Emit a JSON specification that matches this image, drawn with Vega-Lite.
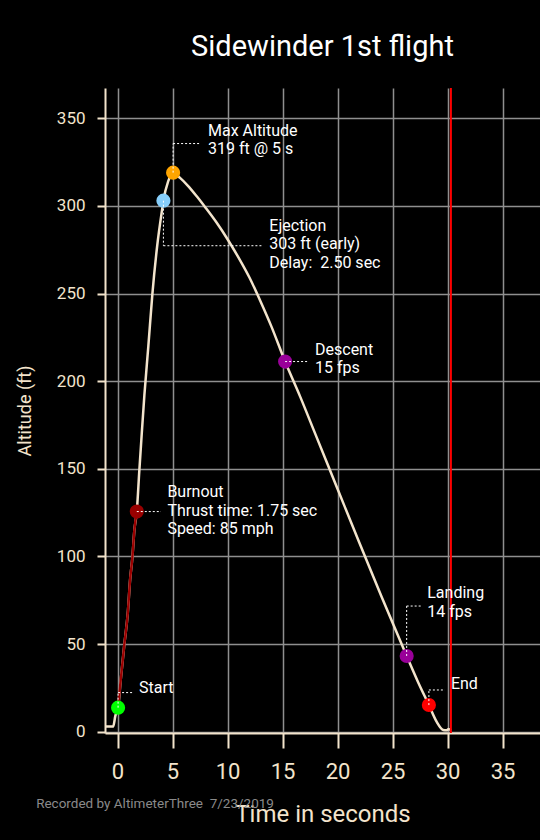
{
  "$schema": "https://vega.github.io/schema/vega-lite/v6.json",
  "width": 435,
  "height": 645,
  "autosize": {"type": "none"},
  "padding": {"left": 105, "top": 88, "right": 0, "bottom": 107},
  "background": "black",
  "title": {"text": "Sidewinder 1st flight", "color": "white", "fontSize": 29, "font": "Roboto", "fontWeight": "normal", "anchor": "middle", "baseline": "alphabetic", "offset": 2},
  "config": {
    "view": {"stroke": null},
    "axis": {
      "labelFont": "Roboto", "titleFont": "Roboto", "titleFontWeight": "normal",
      "labelColor": "#f3e4cc", "titleColor": "#f3e4cc",
      "domainColor": "#f3e4cc", "domainWidth": 2,
      "tickColor": "#f3e4cc", "tickWidth": 2,
      "gridColor": "#8f8f8f", "gridWidth": 1.5
    }
  },
  "datasets": {
    "flight": [
      {"t": -1.14, "alt": 2.9}, {"t": -0.4, "alt": 2.9}, {"t": -0.2, "alt": 9.0}, {"t": 0.05, "alt": 13.7},
      {"t": 0.29, "alt": 29.5}, {"t": 0.62, "alt": 49.9}, {"t": 0.93, "alt": 67.6}, {"t": 1.14, "alt": 86.6},
      {"t": 1.35, "alt": 99.5}, {"t": 1.53, "alt": 115}, {"t": 1.75, "alt": 125.6}, {"t": 1.98, "alt": 149},
      {"t": 2.2, "alt": 170}, {"t": 2.44, "alt": 192}, {"t": 2.8, "alt": 220}, {"t": 3.17, "alt": 250},
      {"t": 3.6, "alt": 277}, {"t": 4.1, "alt": 300}, {"t": 4.17, "alt": 303}, {"t": 4.6, "alt": 314},
      {"t": 5.05, "alt": 319}, {"t": 5.68, "alt": 316}, {"t": 6.4, "alt": 311.5}, {"t": 7.2, "alt": 305.5},
      {"t": 8.0, "alt": 299}, {"t": 9.0, "alt": 290.5}, {"t": 10.0, "alt": 281}, {"t": 11.0, "alt": 270.5},
      {"t": 12.0, "alt": 259}, {"t": 13.0, "alt": 245.5}, {"t": 14.0, "alt": 231}, {"t": 15.23, "alt": 211.2},
      {"t": 16.6, "alt": 191.2}, {"t": 18.0, "alt": 169.5}, {"t": 20.0, "alt": 138.5}, {"t": 22.0, "alt": 107.5},
      {"t": 24.0, "alt": 77}, {"t": 26.28, "alt": 43.2}, {"t": 27.3, "alt": 28.5},
      {"t": 28.3, "alt": 15.2}, {"t": 29.0, "alt": 5.7}, {"t": 29.6, "alt": 1.0}, {"t": 29.9, "alt": 0.8},
      {"t": 30.1, "alt": 1.5}, {"t": 30.3, "alt": 0.8}
    ],
    "events": [
      {"event": "Start", "t": 0.05, "alt": 13.7},
      {"event": "Burnout", "t": 1.75, "alt": 125.6},
      {"event": "Ejection", "t": 4.17, "alt": 303},
      {"event": "Max Altitude", "t": 5.05, "alt": 319},
      {"event": "Descent", "t": 15.23, "alt": 211.2},
      {"event": "Landing", "t": 26.28, "alt": 43.2},
      {"event": "End", "t": 28.3, "alt": 15.2}
    ],
    "leaders": [
      {"t1": 5.05, "a1": 319, "t2": 5.05, "a2": 335.6}, {"t1": 5.05, "a1": 335.6, "t2": 7.5, "a2": 335.6},
      {"t1": 4.17, "a1": 303, "t2": 4.17, "a2": 277.3}, {"t1": 4.17, "a1": 277.3, "t2": 13.25, "a2": 277.3},
      {"t1": 15.23, "a1": 211.2, "t2": 17.34, "a2": 211.2},
      {"t1": 1.75, "a1": 125.6, "t2": 3.95, "a2": 125.6},
      {"t1": 0.05, "a1": 13.7, "t2": 0.05, "a2": 22.3}, {"t1": 0.05, "a1": 22.3, "t2": 1.44, "a2": 22.3},
      {"t1": 26.28, "a1": 43.2, "t2": 26.28, "a2": 71.7}, {"t1": 26.28, "a1": 71.7, "t2": 27.64, "a2": 71.7},
      {"t1": 28.3, "a1": 15.2, "t2": 28.3, "a2": 23.8}, {"t1": 28.3, "a1": 23.8, "t2": 29.76, "a2": 23.8}
    ],
    "labels": [
      {"t": 8.22, "alt": 340, "label": "Max Altitude\n319 ft @ 5 s"},
      {"t": 13.8, "alt": 285.9, "label": "Ejection\n303 ft (early)\nDelay:\u00a0 2.50 sec"},
      {"t": 17.95, "alt": 215.2, "label": "Descent\n15 fps"},
      {"t": 4.53, "alt": 133.8, "label": "Burnout\nThrust time: 1.75 sec\nSpeed: 85 mph"},
      {"t": 1.95, "alt": 21.9, "label": "Start"},
      {"t": 28.15, "alt": 76.1, "label": "Landing\n14 fps"},
      {"t": 30.3, "alt": 24.2, "label": "End"}
    ],
    "endline": [{"t": 30.3}],
    "footer": [{"t": -7.4, "alt": -41.5, "label": "Recorded by AltimeterThree\u00a0 7/23/2019"}]
  },
  "layer": [
    {
      "data": {"name": "flight"},
      "mark": {"type": "line", "color": "#f3e4cc", "strokeWidth": 2.5, "clip": true, "interpolate": "monotone"},
      "encoding": {
        "x": {"field": "t", "type": "quantitative", "scale": {"domain": [-1.14, 38.4], "nice": false, "zero": false},
              "axis": {"title": "Time in seconds", "titleFontSize": 24, "labelFontSize": 22, "tickSize": 15, "labelPadding": 13, "titlePadding": 20,
                       "values": [0, 5, 10, 15, 20, 25, 30, 35]}},
        "y": {"field": "alt", "type": "quantitative", "scale": {"domain": [-0.75, 367.3], "nice": false, "zero": false},
              "axis": {"title": "Altitude (ft)", "titleFontSize": 18, "labelFontSize": 17, "tickSize": 8, "labelPadding": 12, "titlePadding": 22,
                       "values": [0, 50, 100, 150, 200, 250, 300, 350]}}
      }
    },
    {
      "data": {"name": "endline"},
      "mark": {"type": "rule", "color": "#ff0000", "strokeWidth": 2},
      "encoding": {"x": {"field": "t", "type": "quantitative"}}
    },
    {
      "data": {"name": "flight"},
      "transform": [{"filter": "datum.t >= 0 && datum.t <= 1.75"}],
      "mark": {"type": "line", "color": "#9a0000", "strokeWidth": 2.5, "interpolate": "monotone"},
      "encoding": {
        "x": {"field": "t", "type": "quantitative"},
        "y": {"field": "alt", "type": "quantitative"}
      }
    },
    {
      "data": {"name": "events"},
      "mark": {"type": "point", "filled": true, "size": 200, "opacity": 1},
      "encoding": {
        "x": {"field": "t", "type": "quantitative"},
        "y": {"field": "alt", "type": "quantitative"},
        "color": {"field": "event", "type": "nominal", "legend": null,
                  "scale": {"domain": ["Start", "Burnout", "Ejection", "Max Altitude", "Descent", "Landing", "End"],
                            "range": ["#00ff00", "#990000", "#87cefa", "#ffa500", "#990099", "#990099", "#ff0000"]}}
      }
    },
    {
      "data": {"name": "leaders"},
      "mark": {"type": "rule", "color": "white", "strokeWidth": 1, "strokeDash": [2, 2]},
      "encoding": {
        "x": {"field": "t1", "type": "quantitative"},
        "y": {"field": "a1", "type": "quantitative"},
        "x2": {"field": "t2"},
        "y2": {"field": "a2"}
      }
    },
    {
      "data": {"name": "labels"},
      "mark": {"type": "text", "color": "white", "font": "Roboto", "fontSize": 16, "align": "left", "baseline": "alphabetic", "lineBreak": "\n", "lineHeight": 18.5},
      "encoding": {
        "x": {"field": "t", "type": "quantitative"},
        "y": {"field": "alt", "type": "quantitative"},
        "text": {"field": "label"}
      }
    },
    {
      "data": {"name": "footer"},
      "mark": {"type": "text", "color": "#8a8a8a", "font": "Roboto", "fontSize": 13.5, "align": "left", "baseline": "middle"},
      "encoding": {
        "x": {"field": "t", "type": "quantitative"},
        "y": {"field": "alt", "type": "quantitative"},
        "text": {"field": "label"}
      }
    }
  ]
}
